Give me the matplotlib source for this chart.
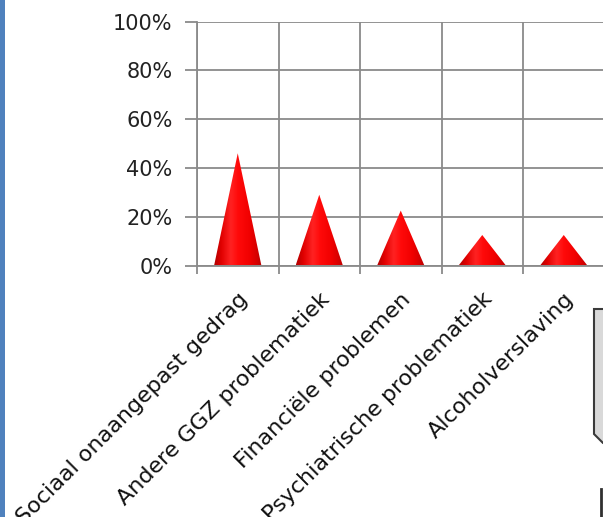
import numpy as np
import matplotlib
matplotlib.use("Agg")
import matplotlib.pyplot as plt
from matplotlib.patches import Polygon, Rectangle
from matplotlib.lines import Line2D
from matplotlib.colors import LinearSegmentedColormap

categories = ["Sociaal onaangepast gedrag", "Andere GGZ problematiek",
              "Financiële problemen", "Psychiatrische problematiek",
              "Alcoholverslaving"]
values = [46, 29, 22.5, 12.5, 12.5]
yticks = [0, 20, 40, 60, 80, 100]
ytick_labels = ["0%", "20%", "40%", "60%", "80%", "100%"]

W, H = 603, 517
fig = plt.figure(figsize=(W / 100, H / 100), dpi=100)
fig.patch.set_facecolor("white")

x0, x1 = 197, 604.5
y0, y1 = 265.5, 21.5
ax = fig.add_axes([x0 / W, 1 - y0 / H, (x1 - x0) / W, (y0 - y1) / H])
ax.set_facecolor("white")

grid_c = "#8a8a8a"
cmap = LinearSegmentedColormap.from_list(
    "cone", [(0.0, "#b00000"), (0.15, "#e00000"), (0.35, "#ff2222"),
             (0.5, "#ff0a0a"), (0.75, "#f00000"), (0.92, "#d00000"),
             (1.0, "#b40000")])
grad = np.linspace(0, 1, 256).reshape(1, -1)
hw = 0.29
for i, v in enumerate(values):
    tri = Polygon([(i - hw, 0), (i + hw, 0), (i, v)], closed=True,
                  facecolor="none", edgecolor="none", transform=ax.transData)
    ax.add_patch(tri)
    im = ax.imshow(grad, cmap=cmap, extent=[i - hw, i + hw, 0, v],
                   aspect="auto", zorder=3, interpolation="bilinear")
    im.set_clip_path(tri)

ax.set_xlim(-0.5, len(categories) - 0.5)
ax.set_ylim(0, 100)
ax.set_yticks(yticks)
ax.set_yticklabels(ytick_labels, fontsize=15, family="DejaVu Sans",
                   color="#222222")
ax.set_xticks(range(len(categories)))
ax.set_xticklabels(categories, rotation=45, ha="right", va="top",
                   rotation_mode="anchor", fontsize=16, family="DejaVu Sans",
                   color="#111111")
ax.set_xticks(np.arange(len(categories) + 1) - 0.5, minor=True)
ax.tick_params(axis="x", which="major", length=0, pad=17)
ax.tick_params(axis="x", which="minor", length=5.5, width=1.3, color=grid_c)
ax.tick_params(axis="y", length=8.6, width=1.3, color=grid_c, pad=9)

ax.yaxis.grid(True, color=grid_c, lw=1.3)
ax.xaxis.grid(True, which="minor", color=grid_c, lw=1.3)
ax.set_axisbelow(True)
for s in ["top", "right"]:
    ax.spines[s].set_visible(False)
for s in ["left", "bottom"]:
    ax.spines[s].set_color(grid_c)
    ax.spines[s].set_linewidth(1.3)

# left blue stripe
fig.patches.append(Rectangle((0, 0), 4.5 / W, 1, transform=fig.transFigure,
                             facecolor="#4f81bd", edgecolor="none"))
# partial box at the right edge
def P(x, y):
    return (x / W, 1 - y / H)
fig.patches.append(Polygon([P(594, 309), P(615, 309), P(615, 443),
                            P(603, 443), P(594, 434)], closed=True,
                           transform=fig.transFigure, facecolor="#d9d9d9",
                           edgecolor="#3a3a3a", lw=1.5))
fig.lines.append(Line2D([601 / W, 601 / W], [1 - 489 / H, 0],
                        transform=fig.transFigure, color="#303030", lw=2))

fig.savefig("out.png", dpi=100)
